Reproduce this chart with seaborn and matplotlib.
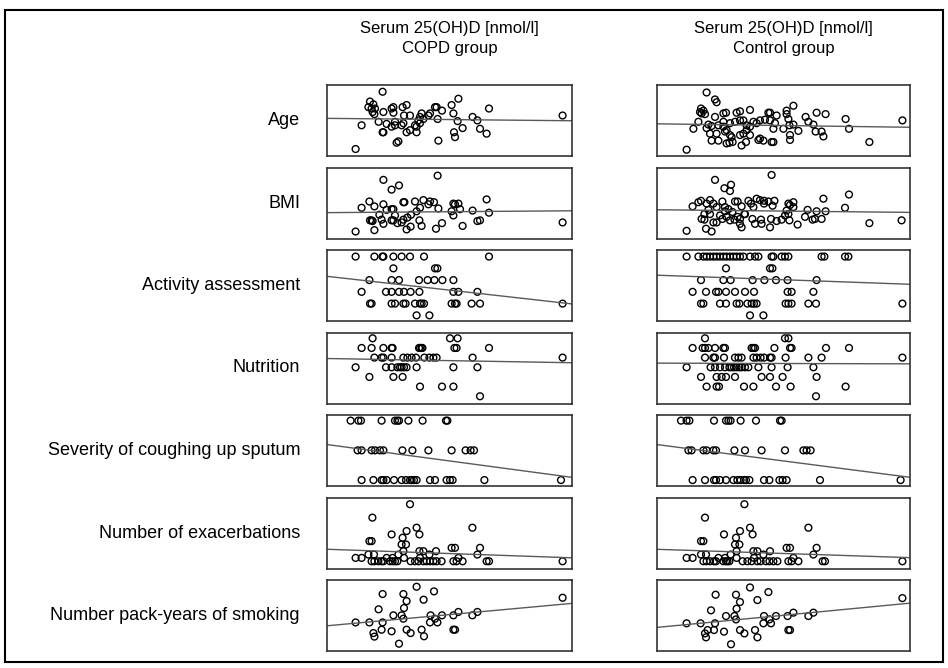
import matplotlib
matplotlib.use("Agg")
import matplotlib.pyplot as plt
from matplotlib.patches import Rectangle
import seaborn as sns

# values (x = serum 25(OH)D, y = panel variable)
copd_age = [(27.8, 9.2), (21.5, 7.8), (23.2, 7.4), (20.7, 7.0), (22.3, 6.8), (24.0, 6.8), (22.8, 6.3), (23.7, 6.0),
            (28.2, 6.3), (32.3, 6.8), (33.2, 7.0), (37.8, 7.0), (39.8, 7.3), (33.2, 6.2), (38.5, 5.8), (41.5, 5.8),
            (54.0, 7.0), (54.8, 7.0), (57.5, 6.5), (62.3, 7.3), (65.7, 8.2), (63.2, 6.1), (81.0, 6.8), (47.3, 6.1),
            (51.5, 6.1), (50.7, 5.8), (46.5, 5.6), (48.2, 5.3), (45.7, 5.1), (17.3, 4.4), (25.8, 4.9), (29.8, 4.6),
            (34.0, 4.9), (32.3, 4.2), (34.0, 4.4), (37.3, 4.4), (38.2, 4.7), (41.5, 3.7), (44.8, 4.2), (44.0, 4.4),
            (46.5, 4.7), (27.8, 3.4), (28.2, 3.4), (39.8, 3.4), (44.8, 3.4), (35.7, 2.1), (34.8, 1.9), (55.7, 2.2),
            (55.3, 5.3), (65.3, 5.0), (67.8, 4.0), (63.5, 3.4), (64.0, 2.7), (72.8, 5.6), (75.2, 5.1), (76.5, 3.9),
            (79.8, 3.2), (14.3, 1.0), (117.8, 5.8)]
copd_bmi = [(28.2, 8.4), (55.3, 9.0), (36.0, 7.6), (32.3, 7.0), (17.3, 4.4), (21.2, 5.3), (23.7, 4.6), (28.2, 4.9),
            (29.8, 4.1), (32.3, 4.2), (33.2, 4.2), (38.2, 5.2), (38.7, 5.2), (44.0, 5.3), (48.2, 5.5), (51.5, 5.3),
            (53.5, 5.2), (50.7, 4.9), (55.7, 4.3), (46.5, 4.4), (44.8, 3.9), (63.2, 5.0), (64.0, 4.9), (65.7, 5.0),
            (62.3, 3.9), (66.5, 4.2), (79.8, 5.6), (72.8, 4.0), (81.0, 3.7), (26.2, 3.4), (21.5, 2.6), (22.3, 2.6),
            (22.8, 2.5), (27.3, 2.7), (28.2, 2.1), (32.3, 2.6), (33.2, 2.6), (34.0, 3.3), (35.2, 2.2), (37.3, 2.3),
            (38.2, 2.7), (40.2, 3.0), (42.0, 3.4), (46.2, 2.6), (47.3, 1.8), (41.8, 1.7), (39.8, 1.3), (54.5, 1.4),
            (57.5, 2.2), (63.2, 3.3), (67.8, 1.8), (75.2, 2.5), (76.5, 2.6), (14.3, 1.0), (23.7, 1.2), (117.8, 2.3)]
copd_activity = [(14.3, 6), (23.7, 6), (27.7, 6), (28.2, 6), (33.2, 6), (37.3, 6), (41.5, 6), (48.5, 6), (81.0, 6),
                 (33.2, 5), (54.0, 5), (55.2, 5),
                 (21.2, 4), (32.3, 4), (36.0, 4), (46.0, 4), (50.3, 4), (53.7, 4), (57.7, 4), (63.2, 4),
                 (17.3, 3), (29.5, 3), (32.3, 3), (36.0, 3), (38.5, 3), (41.8, 3), (46.2, 3), (63.2, 3), (65.7, 3),
                 (75.2, 3),
                 (21.5, 2), (22.3, 2), (32.3, 2), (34.0, 2), (38.2, 2), (39.3, 2), (44.0, 2), (46.5, 2), (47.3, 2),
                 (48.5, 2), (62.3, 2), (64.0, 2), (64.8, 2), (72.3, 2), (76.5, 2), (117.8, 2),
                 (44.8, 1), (51.2, 1)]
copd_nutrition = [(22.8, 7), (61.5, 7), (65.3, 7),
                  (17.3, 6), (22.3, 6), (28.2, 6), (32.3, 6), (32.8, 6), (46.0, 6), (46.5, 6), (47.3, 6), (47.7, 6),
                  (63.7, 6), (64.8, 6), (81.0, 6),
                  (23.7, 5), (27.3, 5), (28.2, 5), (32.3, 5), (38.2, 5), (40.2, 5), (42.3, 5), (44.5, 5), (48.7, 5),
                  (51.2, 5), (53.2, 5), (54.8, 5), (72.8, 5), (117.8, 5),
                  (14.3, 4), (29.5, 4), (32.3, 4), (35.2, 4), (36.5, 4), (37.3, 4), (38.5, 4), (39.8, 4), (44.8, 4),
                  (63.2, 4), (75.2, 4),
                  (21.2, 3), (33.2, 3), (37.8, 3),
                  (46.5, 2), (57.5, 2), (63.2, 2),
                  (76.5, 1)]
copd_sputum = [(11.8, 3), (15.7, 3), (17.0, 3), (27.3, 3), (34.0, 3), (35.2, 3), (36.0, 3), (40.7, 3), (47.8, 3),
               (59.5, 3), (60.2, 3),
               (15.3, 2), (17.3, 2), (22.3, 2), (24.0, 2), (26.5, 2), (28.2, 2), (37.7, 2), (42.7, 2), (50.7, 2),
               (62.3, 2), (69.3, 2), (71.8, 2), (73.5, 2),
               (17.3, 1), (23.2, 1), (27.3, 1), (28.2, 1), (29.8, 1), (33.5, 1), (37.3, 1), (39.5, 1), (41.5, 1),
               (42.3, 1), (43.5, 1), (44.8, 1), (51.5, 1), (54.0, 1), (59.8, 1), (61.5, 1), (62.8, 1), (78.7, 1),
               (117.0, 1)]
copd_exacerbations = [(41.5, 17), (22.7, 13), (21.2, 6), (22.3, 6), (32.3, 8), (39.8, 9), (44.8, 10), (46.2, 8),
                      (37.8, 7), (37.3, 5), (39.5, 5), (72.7, 10), (38.2, 3), (46.2, 3), (48.2, 3), (54.5, 3),
                      (62.3, 4), (64.0, 4), (76.5, 4), (75.2, 2), (20.7, 2), (23.5, 2), (35.7, 2), (51.2, 2),
                      (14.3, 1), (17.3, 1), (29.8, 1), (32.8, 1), (38.5, 1), (46.5, 1), (65.7, 1),
                      (22.3, 0), (23.7, 0), (25.7, 0), (27.3, 0), (28.2, 0), (31.5, 0), (32.8, 0), (34.0, 0),
                      (35.2, 0), (41.8, 0), (44.0, 0), (45.7, 0), (48.2, 0), (49.8, 0), (51.5, 0), (53.2, 0),
                      (54.8, 0), (57.3, 0), (63.2, 0), (64.8, 0), (67.8, 0), (79.8, 0), (81.0, 0), (117.8, 0)]
copd_smoking = [(44.8, 36.2), (53.5, 33.6), (27.8, 32.1), (38.2, 32.1), (39.8, 28.1), (48.3, 28.9), (38.5, 24.2),
                (25.8, 23.5), (33.2, 20.1), (37.3, 20.1), (38.2, 18.2), (51.8, 20.1), (54.0, 18.2), (57.5, 20.1),
                (63.2, 20.1), (65.7, 22.0), (72.7, 20.1), (75.2, 22.0), (14.3, 16.1), (21.2, 16.1), (27.8, 16.1),
                (51.5, 16.1), (55.2, 16.1), (27.3, 12.0), (32.3, 11.1), (23.2, 10.1), (23.7, 8.1), (39.8, 12.0),
                (41.8, 10.1), (47.3, 12.0), (48.5, 8.3), (63.2, 12.0), (64.0, 12.0), (36.0, 4.1), (117.8, 30.0)]

control_age = [(24.8, 9.1), (29.0, 8.1), (29.8, 7.7), (22.0, 6.8), (23.2, 6.5), (22.3, 6.1), (24.0, 6.0), (21.5, 6.3),
               (29.0, 5.6), (33.2, 6.1), (34.5, 6.2), (39.8, 6.2), (41.5, 6.4), (46.5, 6.6), (55.7, 6.2), (56.5, 6.2),
               (59.8, 5.8), (64.8, 6.5), (64.8, 6.0), (68.2, 7.2), (65.7, 5.3), (74.3, 5.6), (79.8, 6.2), (84.3, 6.0),
               (94.3, 5.3), (122.7, 5.1), (20.7, 4.9), (25.7, 4.5), (27.3, 4.3), (30.7, 4.4), (33.2, 4.2), (34.8, 3.7),
               (33.2, 4.9), (36.5, 4.7), (39.0, 4.9), (41.5, 5.1), (43.2, 5.1), (44.8, 4.4), (46.5, 4.2), (48.2, 4.9),
               (49.8, 4.7), (51.5, 5.1), (54.0, 5.2), (56.5, 5.1), (59.0, 4.7), (58.2, 3.9), (63.2, 3.9), (66.2, 4.4),
               (68.2, 4.5), (70.7, 3.6), (75.7, 4.9), (78.2, 4.5), (79.3, 3.5), (82.3, 3.5), (83.2, 2.8), (96.0, 3.9),
               (18.2, 3.9), (24.8, 4.0), (26.5, 3.2), (29.8, 3.2), (27.3, 2.2), (30.7, 2.2), (34.0, 3.5), (36.5, 3.0),
               (37.3, 2.7), (34.8, 1.8), (36.2, 1.9), (37.8, 2.0), (41.5, 3.0), (43.2, 3.2), (44.8, 3.7), (46.5, 3.0),
               (42.3, 1.5), (44.5, 2.0), (50.7, 2.3), (51.5, 2.5), (53.2, 2.2), (57.3, 2.0), (58.2, 2.0), (66.5, 3.0),
               (66.5, 2.3), (14.8, 0.9), (106.2, 2.0)]
control_bmi = [(57.3, 9.1), (29.0, 8.4), (37.0, 7.7), (33.7, 7.2), (36.5, 6.8), (17.8, 4.6), (20.7, 5.2), (22.0, 5.4),
               (24.8, 5.0), (26.5, 5.5), (28.2, 5.0), (29.8, 4.5), (32.7, 5.3), (34.0, 4.5), (35.7, 4.2), (39.0, 5.3),
               (40.3, 5.3), (42.3, 4.6), (45.7, 5.4), (47.0, 5.0), (49.8, 5.7), (51.5, 5.5), (53.5, 5.4), (55.7, 5.3),
               (58.7, 5.4), (57.8, 4.7), (53.5, 5.0), (48.2, 4.5), (65.7, 5.0), (66.5, 4.8), (68.2, 5.2), (68.2, 4.5),
               (83.2, 5.7), (96.0, 6.3), (94.0, 4.4), (75.3, 4.1), (23.7, 3.5), (25.7, 4.1), (22.3, 2.8), (23.7, 2.7),
               (26.5, 3.5), (28.2, 2.3), (29.8, 2.3), (31.5, 3.3), (32.7, 2.8), (34.0, 3.9), (34.8, 3.1), (36.5, 2.6),
               (37.7, 3.8), (38.7, 2.7), (40.3, 3.1), (41.5, 2.8), (43.7, 3.5), (44.0, 3.5), (42.3, 1.6), (41.5, 2.1),
               (47.7, 2.8), (49.0, 2.1), (52.0, 2.7), (52.3, 2.1), (56.5, 1.6), (57.0, 2.8), (59.8, 2.5), (62.3, 2.7),
               (64.0, 3.3), (64.8, 4.0), (65.7, 3.5), (66.2, 2.6), (70.3, 2.0), (74.0, 3.1), (77.8, 2.7), (79.0, 2.8),
               (82.3, 2.8), (79.8, 3.9), (84.3, 3.9), (14.8, 1.1), (24.5, 1.4), (27.3, 1.0), (106.2, 2.2),
               (122.3, 2.6)]
control_activity = [(14.8, 6), (20.7, 6), (23.2, 6), (24.8, 6), (26.5, 6), (28.2, 6), (29.8, 6), (31.5, 6), (33.2, 6),
                    (34.8, 6), (36.5, 6), (38.2, 6), (39.8, 6), (41.5, 6), (43.2, 6), (46.5, 6), (49.0, 6), (50.7, 6),
                    (57.3, 6), (58.2, 6), (62.3, 6), (64.0, 6), (65.7, 6), (82.3, 6), (83.7, 6), (94.0, 6), (95.7, 6),
                    (34.5, 5), (56.5, 5), (57.7, 5),
                    (22.0, 4), (33.2, 4), (36.8, 4), (47.8, 4), (53.7, 4), (59.5, 4), (65.3, 4), (79.8, 4),
                    (17.8, 3), (24.5, 3), (29.5, 3), (30.7, 3), (34.5, 3), (39.0, 3), (44.0, 3), (48.5, 3), (65.3, 3),
                    (67.3, 3), (78.2, 3),
                    (22.0, 2), (23.2, 2), (31.5, 2), (34.5, 2), (39.8, 2), (41.2, 2), (45.2, 2), (47.3, 2), (48.5, 2),
                    (49.8, 2), (64.3, 2), (65.7, 2), (67.3, 2), (75.7, 2), (79.5, 2), (122.7, 2),
                    (46.5, 1), (53.2, 1)]
control_nutrition = [(24.0, 7), (64.0, 7), (65.7, 7),
                     (17.8, 6), (22.8, 6), (24.0, 6), (25.7, 6), (29.0, 6), (33.2, 6), (34.0, 6), (47.3, 6), (48.2, 6),
                     (49.0, 6), (58.7, 6), (66.5, 6), (67.3, 6), (84.5, 6), (96.0, 6),
                     (24.0, 5), (28.2, 5), (29.0, 5), (33.5, 5), (39.0, 5), (40.7, 5), (42.3, 5), (48.2, 5), (49.8, 5),
                     (51.8, 5), (53.5, 5), (56.5, 5), (57.3, 5), (64.3, 5), (75.7, 5), (82.3, 5), (122.7, 5),
                     (14.8, 4), (26.8, 4), (29.0, 4), (31.5, 4), (34.0, 4), (36.2, 4), (37.3, 4), (38.5, 4), (39.8, 4),
                     (41.2, 4), (42.3, 4), (44.0, 4), (45.7, 4), (50.7, 4), (57.3, 4), (65.3, 4), (78.2, 4),
                     (22.0, 3), (29.8, 3), (32.3, 3), (34.5, 3), (39.0, 3), (52.3, 3), (56.5, 3), (62.8, 3), (79.8, 3),
                     (24.8, 2), (29.8, 2), (31.0, 2), (43.5, 2), (48.2, 2), (59.5, 2), (66.8, 2), (94.3, 2),
                     (79.5, 1)]
control_sputum = [(12.0, 3), (14.8, 3), (16.2, 3), (28.5, 3), (34.5, 3), (35.7, 3), (36.8, 3), (41.8, 3), (49.5, 3),
                  (61.5, 3), (62.3, 3),
                  (15.7, 2), (17.3, 2), (23.2, 2), (24.8, 2), (28.2, 2), (29.5, 2), (38.7, 2), (44.0, 2), (52.3, 2),
                  (64.0, 2), (73.2, 2), (74.8, 2), (76.8, 2),
                  (17.8, 1), (24.0, 1), (28.5, 1), (29.5, 1), (31.5, 1), (34.5, 1), (38.2, 1), (40.2, 1), (41.8, 1),
                  (43.5, 1), (44.5, 1), (46.2, 1), (53.5, 1), (56.2, 1), (61.2, 1), (62.8, 1), (64.8, 1), (81.5, 1),
                  (121.8, 1)]
control_exacerbations = [(43.7, 17), (24.0, 13), (22.0, 6), (23.2, 6), (33.5, 8), (41.5, 9), (46.5, 10), (47.8, 8),
                         (39.5, 7), (39.0, 5), (41.2, 5), (75.7, 10), (39.8, 3), (48.2, 3), (50.2, 3), (56.5, 3),
                         (64.8, 4), (66.5, 4), (79.8, 4), (78.2, 2), (22.0, 2), (24.5, 2), (36.8, 2), (53.2, 2),
                         (14.8, 1), (17.8, 1), (30.7, 1), (34.0, 1), (39.8, 1), (48.5, 1), (68.2, 1),
                         (23.2, 0), (24.8, 0), (26.5, 0), (28.5, 0), (29.5, 0), (33.2, 0), (34.5, 0), (35.2, 0),
                         (36.2, 0), (42.8, 0), (45.2, 0), (47.3, 0), (50.2, 0), (51.8, 0), (54.5, 0), (56.2, 0),
                         (58.2, 0), (60.2, 0), (65.7, 0), (67.3, 0), (70.7, 0), (82.8, 0), (84.0, 0), (122.7, 0)]
control_smoking = [(46.5, 35.8), (55.7, 33.2), (29.3, 31.7), (39.5, 31.7), (41.5, 27.6), (50.2, 28.7), (39.8, 23.8),
                   (27.0, 22.9), (34.5, 19.7), (38.7, 19.7), (39.5, 17.8), (53.5, 19.7), (56.2, 17.8), (59.5, 19.7),
                   (65.3, 19.7), (68.2, 21.6), (75.7, 19.7), (78.2, 21.6), (14.8, 15.6), (21.8, 15.6), (29.0, 15.6),
                   (53.2, 15.6), (57.0, 15.6), (28.5, 11.8), (25.3, 11.8), (24.0, 9.9), (24.5, 7.7), (33.5, 10.9),
                   (41.5, 11.8), (43.7, 9.9), (49.0, 11.8), (50.2, 7.7), (65.7, 11.8), (66.5, 11.8), (37.0, 3.8),
                   (122.7, 29.8)]

row_labels = ["Age", "BMI", "Activity assessment", "Nutrition", "Severity of coughing up sputum",
              "Number of exacerbations", "Number pack-years of smoking"]
col_titles = ["COPD group", "Control group"]
columns = [
    [copd_age, copd_bmi, copd_activity, copd_nutrition, copd_sputum, copd_exacerbations, copd_smoking],
    [control_age, control_bmi, control_activity, control_nutrition, control_sputum, control_exacerbations,
     control_smoking],
]
row_ylims = [(0, 10.17), (0, 10.17), (0.52, 6.56), (0.25, 7.6), (0.8, 3.19), (-2.16, 19.0), (0, 40)]
col_xlims = [(0, 122.5), (0, 126.5)]

sns.set_style("white")
plt.rcParams["font.family"] = ["Liberation Sans", "DejaVu Sans"]
plt.rcParams["text.color"] = "black"

W, H = 948, 668
fig = plt.figure(figsize=(W / 100, H / 100), dpi=100)

col_left = [327, 657]
col_width = [245, 253]
panel_h = 71

for c in range(2):
    cx = (col_left[c] + col_width[c] / 2) / W
    fig.text(cx, 1 - 28 / H, "Serum 25(OH)D [nmol/l]", ha="center", va="center", fontsize=12)
    fig.text(cx, 1 - 48 / H, col_titles[c], ha="center", va="center", fontsize=12)
    for r in range(7):
        top = 85 + 82.5 * r
        ax = fig.add_axes([col_left[c] / W, 1 - (top + panel_h) / H, col_width[c] / W, panel_h / H])
        ax.set_xlim(col_xlims[c])
        ax.set_ylim(row_ylims[r])
        xs = [p[0] for p in columns[c][r]]
        ys = [p[1] for p in columns[c][r]]
        sns.regplot(x=xs, y=ys, ax=ax, ci=None, truncate=False, color="black",
                    scatter_kws=dict(s=24, facecolors="none", edgecolors="black", linewidths=1.0, alpha=1),
                    line_kws=dict(color="#5a5a5a", lw=1.0))
        ax.set_xlim(col_xlims[c])
        ax.set_ylim(row_ylims[r])
        ax.set_xticks([])
        ax.set_yticks([])
        ax.set_xlabel("")
        ax.set_ylabel("")
        for sp in ax.spines.values():
            sp.set_color("#333333")
            sp.set_linewidth(1.2)
        if c == 0:
            fig.text(300 / W, 1 - (top + panel_h / 2) / H, row_labels[r], ha="right", va="center", fontsize=13)

# outer frame
fig.patches.append(Rectangle((5 / W, 6 / H), 938 / W, 652 / H, transform=fig.transFigure,
                             fill=False, lw=1.5, ec="black"))

fig.savefig("out.png", dpi=100)
